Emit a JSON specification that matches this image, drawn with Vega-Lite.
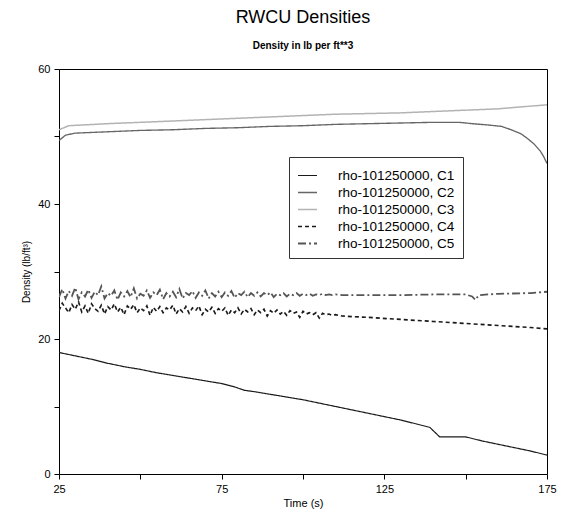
{
  "$schema": "https://vega.github.io/schema/vega-lite/v6.json",
  "width": 488,
  "height": 405,
  "autosize": "none",
  "padding": {"left": 59, "top": 69, "right": 16, "bottom": 39},
  "background": "white",
  "config": {
    "view": {"stroke": "black", "strokeWidth": 1},
    "font": "Liberation Sans",
    "axis": {"domain": false, "grid": false, "labelColor": "black", "titleColor": "black", "labelFont": "Liberation Sans", "titleFont": "Liberation Sans", "titleFontWeight": "normal"}
  },
  "title": {
    "text": "RWCU Densities",
    "subtitle": "Density in lb per ft**3",
    "fontSize": 18,
    "fontWeight": "normal",
    "subtitleFontSize": 10,
    "subtitleFontWeight": "bold",
    "subtitlePadding": 14,
    "offset": 12,
    "anchor": "middle",
    "color": "black",
    "subtitleColor": "black",
    "font": "Liberation Sans",
    "subtitleFont": "Liberation Sans"
  },
  "data": {
    "values": [
      {"t": 25, "v": 18.0, "s": "C1"}, {"t": 30, "v": 17.5, "s": "C1"}, {"t": 35, "v": 17.0, "s": "C1"}, {"t": 40, "v": 16.4, "s": "C1"}, {"t": 45, "v": 15.9, "s": "C1"}, {"t": 50, "v": 15.5, "s": "C1"}, {"t": 55, "v": 15.0, "s": "C1"}, {"t": 60, "v": 14.6, "s": "C1"}, {"t": 65, "v": 14.2, "s": "C1"}, {"t": 70, "v": 13.8, "s": "C1"}, {"t": 75, "v": 13.4, "s": "C1"}, {"t": 79, "v": 12.9, "s": "C1"}, {"t": 82, "v": 12.4, "s": "C1"}, {"t": 85, "v": 12.2, "s": "C1"}, {"t": 90, "v": 11.8, "s": "C1"}, {"t": 95, "v": 11.4, "s": "C1"}, {"t": 100, "v": 11.0, "s": "C1"}, {"t": 105, "v": 10.5, "s": "C1"}, {"t": 110, "v": 10.0, "s": "C1"}, {"t": 115, "v": 9.5, "s": "C1"}, {"t": 120, "v": 9.0, "s": "C1"}, {"t": 125, "v": 8.5, "s": "C1"}, {"t": 130, "v": 8.0, "s": "C1"}, {"t": 135, "v": 7.4, "s": "C1"}, {"t": 139, "v": 6.9, "s": "C1"}, {"t": 142, "v": 5.5, "s": "C1"}, {"t": 150, "v": 5.5, "s": "C1"}, {"t": 155, "v": 4.9, "s": "C1"}, {"t": 160, "v": 4.4, "s": "C1"}, {"t": 165, "v": 3.9, "s": "C1"}, {"t": 170, "v": 3.4, "s": "C1"}, {"t": 175, "v": 2.8, "s": "C1"},

      {"t": 25, "v": 49.4, "s": "C2"}, {"t": 27, "v": 50.2, "s": "C2"}, {"t": 30, "v": 50.5, "s": "C2"}, {"t": 40, "v": 50.7, "s": "C2"}, {"t": 50, "v": 50.9, "s": "C2"}, {"t": 60, "v": 51.0, "s": "C2"}, {"t": 70, "v": 51.2, "s": "C2"}, {"t": 80, "v": 51.3, "s": "C2"}, {"t": 90, "v": 51.5, "s": "C2"}, {"t": 100, "v": 51.6, "s": "C2"}, {"t": 110, "v": 51.8, "s": "C2"}, {"t": 120, "v": 51.9, "s": "C2"}, {"t": 130, "v": 52.0, "s": "C2"}, {"t": 140, "v": 52.1, "s": "C2"}, {"t": 148, "v": 52.1, "s": "C2"}, {"t": 152, "v": 51.9, "s": "C2"}, {"t": 157, "v": 51.7, "s": "C2"}, {"t": 161, "v": 51.5, "s": "C2"}, {"t": 164, "v": 51.0, "s": "C2"}, {"t": 167, "v": 50.4, "s": "C2"}, {"t": 169, "v": 49.7, "s": "C2"}, {"t": 171, "v": 48.9, "s": "C2"}, {"t": 173, "v": 47.8, "s": "C2"}, {"t": 174, "v": 47.0, "s": "C2"}, {"t": 175, "v": 46.0, "s": "C2"},

      {"t": 25, "v": 51.0, "s": "C3"}, {"t": 28, "v": 51.6, "s": "C3"}, {"t": 40, "v": 51.9, "s": "C3"}, {"t": 50, "v": 52.1, "s": "C3"}, {"t": 60, "v": 52.3, "s": "C3"}, {"t": 70, "v": 52.5, "s": "C3"}, {"t": 80, "v": 52.7, "s": "C3"}, {"t": 90, "v": 52.9, "s": "C3"}, {"t": 100, "v": 53.1, "s": "C3"}, {"t": 110, "v": 53.3, "s": "C3"}, {"t": 120, "v": 53.4, "s": "C3"}, {"t": 130, "v": 53.5, "s": "C3"}, {"t": 140, "v": 53.7, "s": "C3"}, {"t": 150, "v": 53.9, "s": "C3"}, {"t": 160, "v": 54.1, "s": "C3"}, {"t": 165, "v": 54.3, "s": "C3"}, {"t": 170, "v": 54.5, "s": "C3"}, {"t": 175, "v": 54.7, "s": "C3"},

      {"t": 25, "v": 24.2, "s": "C4"}, {"t": 26, "v": 25.3, "s": "C4"}, {"t": 27, "v": 24.6, "s": "C4"}, {"t": 28, "v": 23.9, "s": "C4"}, {"t": 29, "v": 25.1, "s": "C4"}, {"t": 30, "v": 24.4, "s": "C4"}, {"t": 31, "v": 25.5, "s": "C4"}, {"t": 32, "v": 24.0, "s": "C4"}, {"t": 33, "v": 24.9, "s": "C4"}, {"t": 34, "v": 23.8, "s": "C4"}, {"t": 35, "v": 25.2, "s": "C4"}, {"t": 36, "v": 24.5, "s": "C4"}, {"t": 37, "v": 24.1, "s": "C4"}, {"t": 38, "v": 25.0, "s": "C4"}, {"t": 39, "v": 23.7, "s": "C4"}, {"t": 40, "v": 24.8, "s": "C4"}, {"t": 41, "v": 24.3, "s": "C4"}, {"t": 42, "v": 25.2, "s": "C4"}, {"t": 43, "v": 24.0, "s": "C4"}, {"t": 44, "v": 24.7, "s": "C4"}, {"t": 45, "v": 23.6, "s": "C4"}, {"t": 46, "v": 24.9, "s": "C4"}, {"t": 47, "v": 24.4, "s": "C4"}, {"t": 48, "v": 25.1, "s": "C4"}, {"t": 49, "v": 23.9, "s": "C4"}, {"t": 50, "v": 24.6, "s": "C4"}, {"t": 51, "v": 24.2, "s": "C4"}, {"t": 52, "v": 24.9, "s": "C4"}, {"t": 53, "v": 23.5, "s": "C4"}, {"t": 54, "v": 24.7, "s": "C4"}, {"t": 55, "v": 24.1, "s": "C4"}, {"t": 56, "v": 24.8, "s": "C4"}, {"t": 57, "v": 23.9, "s": "C4"}, {"t": 58, "v": 24.6, "s": "C4"}, {"t": 59, "v": 24.3, "s": "C4"}, {"t": 60, "v": 25.0, "s": "C4"}, {"t": 61, "v": 23.7, "s": "C4"}, {"t": 62, "v": 24.5, "s": "C4"}, {"t": 63, "v": 24.0, "s": "C4"}, {"t": 64, "v": 24.8, "s": "C4"}, {"t": 65, "v": 23.8, "s": "C4"}, {"t": 66, "v": 24.6, "s": "C4"}, {"t": 67, "v": 24.2, "s": "C4"}, {"t": 68, "v": 24.9, "s": "C4"}, {"t": 69, "v": 23.6, "s": "C4"}, {"t": 70, "v": 24.4, "s": "C4"}, {"t": 71, "v": 24.0, "s": "C4"}, {"t": 72, "v": 24.7, "s": "C4"}, {"t": 73, "v": 23.8, "s": "C4"}, {"t": 74, "v": 24.5, "s": "C4"}, {"t": 75, "v": 24.1, "s": "C4"}, {"t": 76, "v": 24.6, "s": "C4"}, {"t": 77, "v": 23.5, "s": "C4"}, {"t": 78, "v": 24.3, "s": "C4"}, {"t": 79, "v": 23.9, "s": "C4"}, {"t": 80, "v": 24.6, "s": "C4"}, {"t": 81, "v": 23.7, "s": "C4"}, {"t": 82, "v": 24.4, "s": "C4"}, {"t": 83, "v": 24.0, "s": "C4"}, {"t": 84, "v": 24.5, "s": "C4"}, {"t": 85, "v": 23.6, "s": "C4"}, {"t": 86, "v": 24.3, "s": "C4"}, {"t": 87, "v": 23.9, "s": "C4"}, {"t": 88, "v": 24.4, "s": "C4"}, {"t": 89, "v": 23.4, "s": "C4"}, {"t": 90, "v": 24.2, "s": "C4"}, {"t": 91, "v": 23.8, "s": "C4"}, {"t": 92, "v": 24.3, "s": "C4"}, {"t": 93, "v": 23.7, "s": "C4"}, {"t": 94, "v": 24.1, "s": "C4"}, {"t": 95, "v": 23.5, "s": "C4"}, {"t": 96, "v": 24.2, "s": "C4"}, {"t": 97, "v": 23.8, "s": "C4"}, {"t": 98, "v": 24.0, "s": "C4"}, {"t": 99, "v": 23.2, "s": "C4"}, {"t": 100, "v": 24.1, "s": "C4"}, {"t": 101, "v": 23.7, "s": "C4"}, {"t": 102, "v": 23.9, "s": "C4"}, {"t": 103, "v": 23.6, "s": "C4"}, {"t": 104, "v": 23.9, "s": "C4"}, {"t": 105, "v": 23.1, "s": "C4"}, {"t": 106, "v": 23.8, "s": "C4"}, {"t": 107, "v": 23.6, "s": "C4"}, {"t": 108, "v": 23.7, "s": "C4"}, {"t": 109, "v": 23.5, "s": "C4"}, {"t": 110, "v": 23.6, "s": "C4"}, {"t": 112, "v": 23.4, "s": "C4"}, {"t": 120, "v": 23.2, "s": "C4"}, {"t": 130, "v": 22.9, "s": "C4"}, {"t": 140, "v": 22.6, "s": "C4"}, {"t": 150, "v": 22.3, "s": "C4"}, {"t": 160, "v": 22.0, "s": "C4"}, {"t": 170, "v": 21.7, "s": "C4"}, {"t": 175, "v": 21.5, "s": "C4"},

      {"t": 25, "v": 26.2, "s": "C5"}, {"t": 26, "v": 27.4, "s": "C5"}, {"t": 27, "v": 26.0, "s": "C5"}, {"t": 28, "v": 27.1, "s": "C5"}, {"t": 29, "v": 26.4, "s": "C5"}, {"t": 30, "v": 27.6, "s": "C5"}, {"t": 31, "v": 25.9, "s": "C5"}, {"t": 32, "v": 26.9, "s": "C5"}, {"t": 33, "v": 26.3, "s": "C5"}, {"t": 34, "v": 27.3, "s": "C5"}, {"t": 35, "v": 26.1, "s": "C5"}, {"t": 36, "v": 27.0, "s": "C5"}, {"t": 37, "v": 26.5, "s": "C5"}, {"t": 38, "v": 27.8, "s": "C5"}, {"t": 39, "v": 26.0, "s": "C5"}, {"t": 40, "v": 26.8, "s": "C5"}, {"t": 41, "v": 26.4, "s": "C5"}, {"t": 42, "v": 27.2, "s": "C5"}, {"t": 43, "v": 25.8, "s": "C5"}, {"t": 44, "v": 26.9, "s": "C5"}, {"t": 45, "v": 26.3, "s": "C5"}, {"t": 46, "v": 27.1, "s": "C5"}, {"t": 47, "v": 26.2, "s": "C5"}, {"t": 48, "v": 27.5, "s": "C5"}, {"t": 49, "v": 26.0, "s": "C5"}, {"t": 50, "v": 26.7, "s": "C5"}, {"t": 51, "v": 26.4, "s": "C5"}, {"t": 52, "v": 27.2, "s": "C5"}, {"t": 53, "v": 26.1, "s": "C5"}, {"t": 54, "v": 26.9, "s": "C5"}, {"t": 55, "v": 26.5, "s": "C5"}, {"t": 56, "v": 27.3, "s": "C5"}, {"t": 57, "v": 25.9, "s": "C5"}, {"t": 58, "v": 26.8, "s": "C5"}, {"t": 59, "v": 26.3, "s": "C5"}, {"t": 60, "v": 27.0, "s": "C5"}, {"t": 61, "v": 26.2, "s": "C5"}, {"t": 62, "v": 27.4, "s": "C5"}, {"t": 63, "v": 26.0, "s": "C5"}, {"t": 64, "v": 26.8, "s": "C5"}, {"t": 65, "v": 26.5, "s": "C5"}, {"t": 66, "v": 27.1, "s": "C5"}, {"t": 67, "v": 26.1, "s": "C5"}, {"t": 68, "v": 26.9, "s": "C5"}, {"t": 69, "v": 26.4, "s": "C5"}, {"t": 70, "v": 27.2, "s": "C5"}, {"t": 71, "v": 26.0, "s": "C5"}, {"t": 72, "v": 26.8, "s": "C5"}, {"t": 73, "v": 26.3, "s": "C5"}, {"t": 74, "v": 27.0, "s": "C5"}, {"t": 75, "v": 26.2, "s": "C5"}, {"t": 76, "v": 26.9, "s": "C5"}, {"t": 77, "v": 26.4, "s": "C5"}, {"t": 78, "v": 27.1, "s": "C5"}, {"t": 79, "v": 26.1, "s": "C5"}, {"t": 80, "v": 26.8, "s": "C5"}, {"t": 81, "v": 26.5, "s": "C5"}, {"t": 82, "v": 27.0, "s": "C5"}, {"t": 83, "v": 26.2, "s": "C5"}, {"t": 84, "v": 26.8, "s": "C5"}, {"t": 85, "v": 26.4, "s": "C5"}, {"t": 86, "v": 26.9, "s": "C5"}, {"t": 87, "v": 26.3, "s": "C5"}, {"t": 88, "v": 26.8, "s": "C5"}, {"t": 89, "v": 26.5, "s": "C5"}, {"t": 90, "v": 26.9, "s": "C5"}, {"t": 91, "v": 26.2, "s": "C5"}, {"t": 92, "v": 26.7, "s": "C5"}, {"t": 93, "v": 26.5, "s": "C5"}, {"t": 94, "v": 26.8, "s": "C5"}, {"t": 95, "v": 26.3, "s": "C5"}, {"t": 96, "v": 26.7, "s": "C5"}, {"t": 97, "v": 26.5, "s": "C5"}, {"t": 98, "v": 26.8, "s": "C5"}, {"t": 99, "v": 26.4, "s": "C5"}, {"t": 100, "v": 26.7, "s": "C5"}, {"t": 101, "v": 26.5, "s": "C5"}, {"t": 102, "v": 26.7, "s": "C5"}, {"t": 103, "v": 26.4, "s": "C5"}, {"t": 104, "v": 26.6, "s": "C5"}, {"t": 105, "v": 26.5, "s": "C5"}, {"t": 106, "v": 26.7, "s": "C5"}, {"t": 107, "v": 26.5, "s": "C5"}, {"t": 108, "v": 26.6, "s": "C5"}, {"t": 109, "v": 26.5, "s": "C5"}, {"t": 110, "v": 26.6, "s": "C5"}, {"t": 112, "v": 26.5, "s": "C5"}, {"t": 120, "v": 26.5, "s": "C5"}, {"t": 130, "v": 26.5, "s": "C5"}, {"t": 140, "v": 26.6, "s": "C5"}, {"t": 150, "v": 26.6, "s": "C5"}, {"t": 152, "v": 26.3, "s": "C5"}, {"t": 153, "v": 25.8, "s": "C5"}, {"t": 154, "v": 26.5, "s": "C5"}, {"t": 160, "v": 26.7, "s": "C5"}, {"t": 170, "v": 26.8, "s": "C5"}, {"t": 175, "v": 27.0, "s": "C5"}
    ]
  },
  "mark": {"type": "line", "clip": true},
  "encoding": {
    "x": {
      "field": "t", "type": "quantitative",
      "scale": {"domain": [25, 175], "nice": false, "zero": false},
      "axis": {
        "values": [25, 50, 75, 100, 125, 150, 175],
        "labelExpr": "(datum.value - 25) % 50 == 0 ? datum.label : ''",
        "ticks": true, "tickSize": 5, "tickWidth": 1, "tickColor": "black",
        "labelPadding": 4, "labelFontSize": 11, "labelFlush": false,
        "title": "Time (s)", "titleFontSize": 11, "titlePadding": 3
      }
    },
    "y": {
      "field": "v", "type": "quantitative",
      "scale": {"domain": [0, 60], "nice": false},
      "axis": {
        "tickCount": 7,
        "labelExpr": "datum.value % 20 == 0 ? datum.label : ''",
        "ticks": true, "tickSize": 5, "tickWidth": 1, "tickColor": "black",
        "labelPadding": 4, "labelFontSize": 11,
        "title": "Density (lb/ft³)", "titleFontSize": 10, "titlePadding": 6
      }
    },
    "color": {
      "field": "s", "type": "nominal",
      "scale": {"domain": ["C1", "C2", "C3", "C4", "C5"], "range": ["#1a1a1a", "#666666", "#b3b3b3", "#1a1a1a", "#555555"]},
      "legend": {
        "title": null, "orient": "none", "legendX": 230, "legendY": 88,
        "labelExpr": "'rho-101250000, ' + datum.label",
        "strokeColor": "#333333", "fillColor": "white", "padding": 8,
        "symbolType": "stroke", "symbolSize": 361, "symbolStrokeWidth": 1.3,
        "labelFontSize": 13.5, "labelColor": "black", "labelOffset": 20, "rowPadding": 0
      }
    },
    "strokeDash": {
      "field": "s", "type": "nominal",
      "scale": {"domain": ["C1", "C2", "C3", "C4", "C5"], "range": [[1, 0], [1, 0], [1, 0], [4, 3], [8, 3, 2, 3]]},
      "legend": {"title": null}
    },
    "strokeWidth": {
      "field": "s", "type": "nominal",
      "scale": {"domain": ["C1", "C2", "C3", "C4", "C5"], "range": [1.2, 1.8, 1, 1.1, 1.3]},
      "legend": {"title": null}
    }
  }
}
